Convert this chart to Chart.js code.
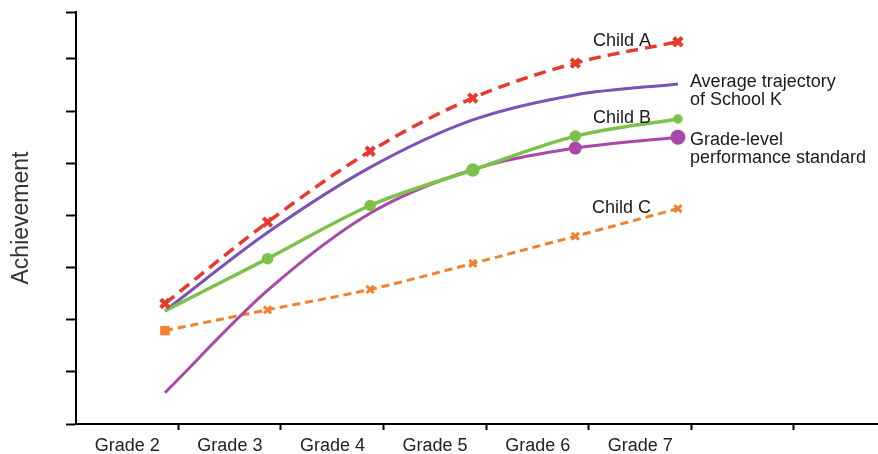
<!DOCTYPE html>
<html>
<head>
<meta charset="utf-8">
<script src="https://cdn.jsdelivr.net/npm/chart.js@4"></script>
<style>
  html, body { margin: 0; padding: 0; background: #fff; overflow: hidden; }
  canvas { display: block; }
</style>
</head>
<body>
<canvas id="chart" width="878" height="454"></canvas>
<script>
// grades on the x axis (data points sit at these values)
const grades = [2, 3, 4, 5, 6, 7];
const gradeLabels = ["Grade 2", "Grade 3", "Grade 4", "Grade 5", "Grade 6", "Grade 7"];

// achievement values (one y tick = 10)
const childA = [23.1, 38.7, 52.3, 62.5, 69.2, 73.3];
const schoolK = [21.7, 36.7, 49.2, 58.3, 63.1, 65.2];
const childB = [21.7, 31.7, 41.9, 48.7, 55.2, 58.5];
const standard = [6.0, 25.6, 40.4, 48.8, 52.9, 55.0];
const childC = [17.9, 21.9, 25.8, 30.8, 36.0, 41.3];

const FONT = "'Liberation Sans', Arial, sans-serif";

function toPoints(values) {
  return values.map((v, i) => ({ x: grades[i], y: v }));
}

// labels written next to the end of each line
const endLabels = {
  childA: ["Child A"],
  schoolK: ["Average trajectory", "of School K"],
  childB: ["Child B"],
  standard: ["Grade-level", "performance standard"],
  childC: ["Child C"],
};

const endLabelPlugin = {
  id: "endLabels",
  afterDatasetsDraw(chart) {
    const ctx = chart.ctx;
    ctx.save();
    ctx.font = "18px " + FONT;
    ctx.fillStyle = "#1a1a1a";
    ctx.textBaseline = "middle";
    chart.data.datasets.forEach((ds, di) => {
      const lines = endLabels[ds.key];
      const pt = chart.getDatasetMeta(di).data[ds.data.length - 1];
      if (ds.labelSide === "left") {
        ctx.textAlign = "right";
        ctx.fillText(lines[0], pt.x - 27, pt.y - 1);
      } else {
        ctx.textAlign = "left";
        lines.forEach((line, li) => {
          ctx.fillText(line, pt.x + 12, pt.y + ds.labelDy + li * 18);
        });
      }
    });
    // y axis title
    ctx.translate(22, 218);
    ctx.rotate(-Math.PI / 2);
    ctx.textAlign = "center";
    ctx.font = "23px " + FONT;
    ctx.fillStyle = "#333";
    ctx.fillText("Achievement", 0, 0);
    ctx.restore();
  },
};

new Chart(document.querySelector("#chart").getContext("2d"), {
  type: "line",
  data: {
    datasets: [
      {
        key: "childA",
        labelSide: "left",
        data: toPoints(childA),
        borderColor: "#e63a2e",
        backgroundColor: "#e63a2e",
        borderWidth: 3.5,
        borderDash: [12, 7],
        pointStyle: "crossRot",
        pointRadius: 6,
        pointBorderWidth: 4,
        order: 1,
      },
      {
        key: "schoolK",
        labelDy: -2,
        data: toPoints(schoolK),
        borderColor: "#7b52b5",
        backgroundColor: "#7b52b5",
        borderWidth: 3,
        pointRadius: 0,
        order: 3,
      },
      {
        key: "childB",
        labelSide: "left",
        data: toPoints(childB),
        borderColor: "#7cc24a",
        backgroundColor: "#7cc24a",
        borderWidth: 3.5,
        pointRadius: [0, 4, 4, 5, 4, 3],
        order: 2,
      },
      {
        key: "standard",
        labelDy: 3,
        data: toPoints(standard),
        borderColor: "#aa48a8",
        backgroundColor: "#aa48a8",
        borderWidth: 3,
        pointRadius: [0, 0, 0, 4, 5, 6],
        order: 4,
      },
      {
        key: "childC",
        labelSide: "left",
        data: toPoints(childC),
        borderColor: "#f0812e",
        backgroundColor: "#f0812e",
        borderWidth: 3,
        borderDash: [8, 5],
        pointStyle: ["rect", "crossRot", "crossRot", "crossRot", "crossRot", "crossRot"],
        pointRadius: [6, 5, 5, 5, 5, 5],
        pointBorderWidth: [1, 3, 3, 3, 3, 3],
        order: 5,
      },
    ],
  },
  options: {
    responsive: false,
    animation: false,
    events: [],
    cubicInterpolationMode: "monotone",
    layout: { autoPadding: false, padding: { left: 66, top: 12, right: 0, bottom: -8 } },
    plugins: { legend: { display: false }, tooltip: { enabled: false } },
    scales: {
      x: {
        type: "linear",
        min: 1.133,
        max: 8.95,
        afterBuildTicks(scale) {
          scale.ticks = [2, 3, 4, 5, 6, 7, 8].map((g) => ({ value: g + 0.13 }));
        },
        afterFit(scale) {
          scale.paddingLeft = 0;
          scale.paddingRight = 0;
        },
        border: { color: "#000", width: 2 },
        grid: { drawOnChartArea: false, color: "#000", tickLength: 6, tickWidth: 2 },
        ticks: {
          callback: (v, i) => gradeLabels[i] || "",
          labelOffset: -51,
          padding: 7,
          maxRotation: 0,
          autoSkip: false,
          color: "#222",
          font: { family: FONT, size: 18, lineHeight: 1 },
        },
      },
      y: {
        min: 0,
        max: 79,
        ticks: { stepSize: 10, display: false },
        border: { color: "#000", width: 2 },
        grid: { drawOnChartArea: false, color: "#000", tickLength: 10, tickWidth: 2 },
      },
    },
  },
  plugins: [endLabelPlugin],
});
</script>
</body>
</html>
